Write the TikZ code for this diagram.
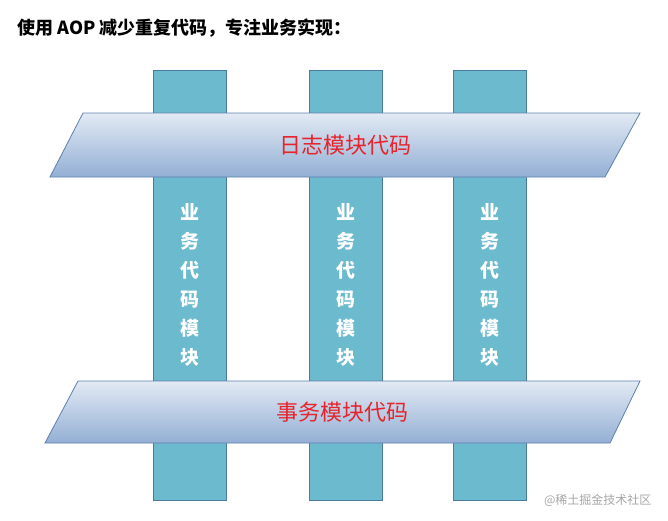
\documentclass[tikz,border=0pt]{standalone}
\usepackage{fontspec}
\setmainfont{Noto Sans CJK SC}
\usetikzlibrary{positioning}
\definecolor{barfill}{HTML}{6BBACE}
\definecolor{barline}{HTML}{4A7A9C}
\definecolor{bandtop}{HTML}{E2EAF4}
\definecolor{bandbot}{HTML}{93AFD4}
\definecolor{bandline}{HTML}{5F7FAF}
\definecolor{labelred}{HTML}{E8232B}
\tikzset{
  bar/.style={fill=barfill, draw=barline, line width=1pt},
  band/.style={top color=bandtop, bottom color=bandbot, draw=bandline, line width=0.8pt},
  bandtext/.style={text=labelred, font=\fontsize{22}{24}\selectfont},
  bartext/.style={text=white, font=\bfseries\fontsize{19}{29}\selectfont, align=center}
}
\begin{document}
\begin{tikzpicture}[x=1pt, y=-1pt]
    \useasboundingbox (0,0) rectangle (668,520);
    \node[anchor=west, font=\bfseries\fontsize{18}{20}\selectfont] (title) at (14,28) {使用 AOP 减少重复代码，专注业务实现：};
    % business bars
    \foreach \x/\n in {153/a, 309/b, 453/c} {
        \draw[bar] (\x,70) rectangle ++(73,430);
        \node[bartext] (biz\n) at (\x+36.5,285) {业\\务\\代\\码\\模\\块};
    }
    % cross-cutting bands
    \draw[band] (83,113) -- (640,113) -- (605,177) -- (50,177) -- cycle;
    \node[bandtext] (log) at (345,145) {日志模块代码};
    \draw[band] (78,381) -- (640,381) -- (610,443) -- (45,443) -- cycle;
    \node[bandtext] (tx) at (342,412) {事务模块代码};
    \node[anchor=east, text=gray!70, font=\fontsize{12}{14}\selectfont] (mark) at (655,500) {@稀土掘金技术社区};
\end{tikzpicture}
\end{document}
